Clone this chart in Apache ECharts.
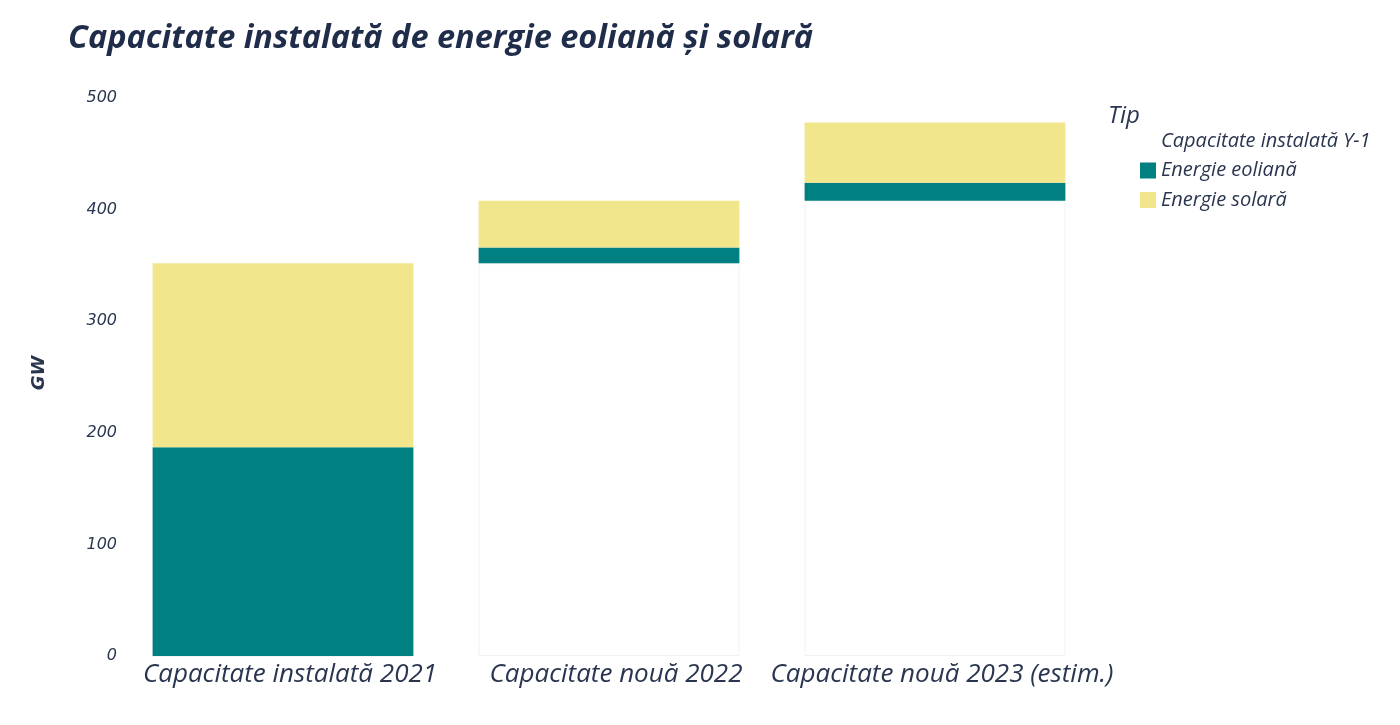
<!DOCTYPE html>
<html>
<head>
<meta charset="utf-8">
<script src="https://cdn.jsdelivr.net/npm/echarts@6/dist/echarts.min.js"></script>
<style>
  html, body { margin: 0; padding: 0; background: #fff; }
  #chart { width: 1400px; height: 725px; }
</style>
</head>
<body>
<div id="chart"></div>
<script>
// Waterfall-style stacked bars: invisible base carries the previous year's total.
const categories = ['Capacitate instalată 2021', 'Capacitate nouă 2022', 'Capacitate nouă 2023 (estim.)'];
const baseY1 = [0, 352, 408];
const wind = [187, 14, 16];
const solar = [165, 42, 54];
const yTicks = [0, 100, 200, 300, 400, 500];

const textColor = '#2a3550';

const chart = echarts.init(document.getElementById('chart'));

const option = {
    animation: false,
    title: [
        {
            text: 'Capacitate instalată de energie eoliană și solară',
            left: 63,
            top: 17,
            textStyle: {
                fontFamily: 'Open Sans',
                fontStyle: 'italic',
                fontWeight: 'bold',
                fontSize: 32.5,
                color: '#1f2d4a'
            }
        },
        {
            // legend title
            text: 'Tip',
            left: 1103,
            top: 99,
            textStyle: {
                fontFamily: 'Open Sans',
                fontStyle: 'italic',
                fontWeight: 'normal',
                fontSize: 24,
                color: textColor
            }
        }
    ],
    legend: {
        orient: 'vertical',
        left: 1135,
        top: 126,
        itemGap: 9.5,
        itemWidth: 16,
        itemHeight: 16,
        icon: 'rect',
        textStyle: {
            fontFamily: 'Open Sans',
            fontStyle: 'italic',
            fontSize: 20,
            lineHeight: 20,
            color: textColor
        },
        data: [
            { name: 'Capacitate instalată Y-1', itemStyle: { color: '#ffffff', borderWidth: 0 } },
            'Energie eoliană',
            'Energie solară'
        ]
    },
    grid: {
        left: 120,
        right: 302,
        top: 98,
        bottom: 69
    },
    xAxis: {
        type: 'category',
        data: categories,
        axisLine: { show: false },
        axisTick: { show: false },
        axisLabel: {
            fontFamily: 'Open Sans',
            fontStyle: 'italic',
            fontSize: 26,
            color: textColor,
            margin: 6,
            interval: 0,
            padding: [0, 0, 0, 14]
        }
    },
    yAxis: {
        type: 'value',
        min: yTicks[0],
        max: yTicks[yTicks.length - 1],
        interval: 100,
        name: 'GW',
        nameLocation: 'middle',
        nameGap: 72,
        nameTextStyle: {
            fontFamily: 'DejaVu Sans',
            fontStyle: 'italic',
            fontWeight: 'bold',
            fontSize: 18,
            color: textColor,
            padding: [0, 0, 0, 8]
        },
        splitLine: { show: false },
        axisLine: { show: false },
        axisTick: { show: false },
        axisLabel: {
            fontFamily: 'DejaVu Sans',
            fontStyle: 'italic',
            fontSize: 16,
            color: textColor,
            margin: 3
        }
    },
    series: [
        {
            name: 'Capacitate instalată Y-1',
            type: 'bar',
            stack: 'total',
            barWidth: '80%',
            data: baseY1,
            itemStyle: { color: '#ffffff', borderColor: '#f2f2f2', borderWidth: 1 }
        },
        {
            name: 'Energie eoliană',
            type: 'bar',
            stack: 'total',
            data: wind,
            itemStyle: { color: '#008080' }
        },
        {
            name: 'Energie solară',
            type: 'bar',
            stack: 'total',
            data: solar,
            itemStyle: { color: '#F2E68C' }
        }
    ]
};

chart.setOption(option);
window.addEventListener('resize', () => chart.resize());
</script>
</body>
</html>
